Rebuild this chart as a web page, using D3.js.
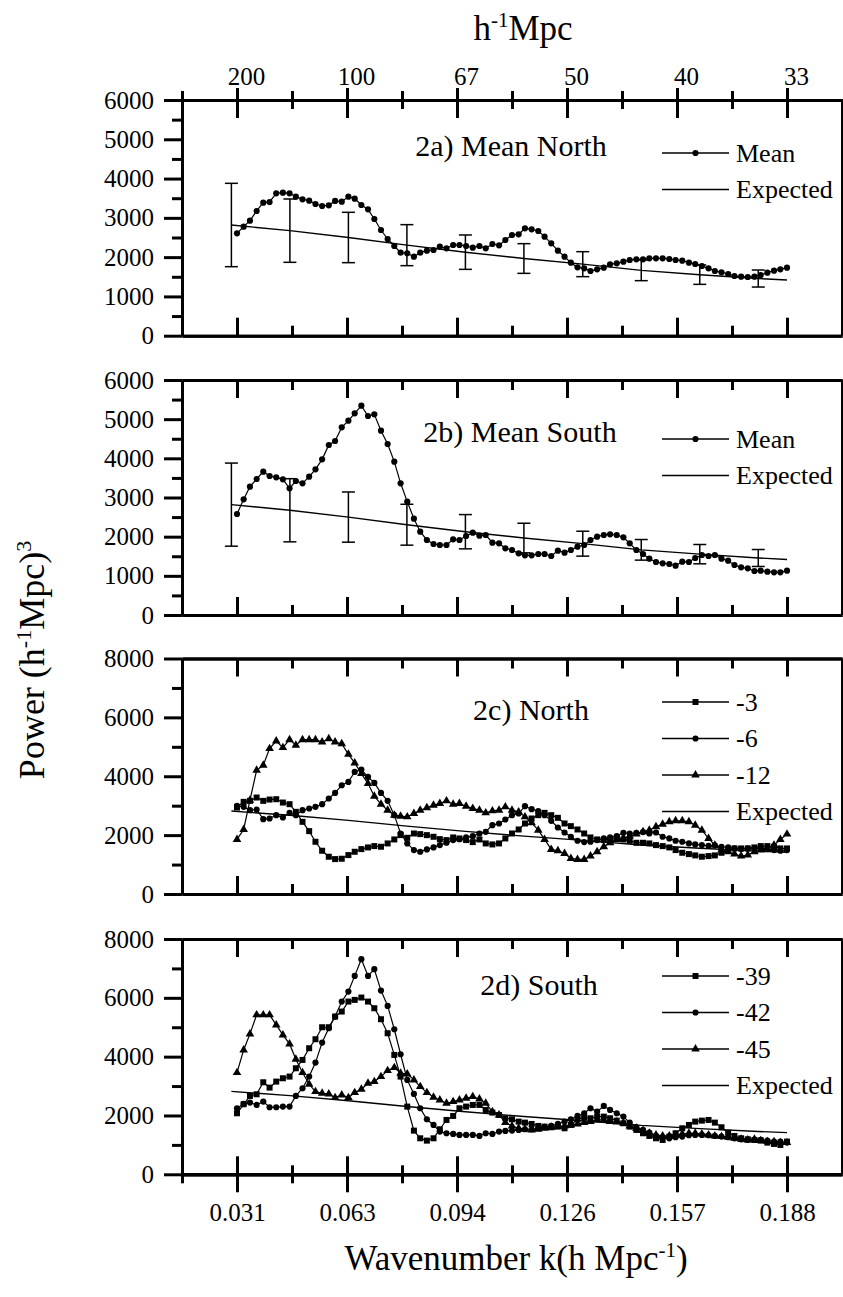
<!DOCTYPE html>
<html><head><meta charset="utf-8">
<script src="https://cdn.jsdelivr.net/npm/d3@7"></script>
<style>
body{margin:0;background:#fff;}
</style></head><body>
<svg id="chart" width="843" height="1297" style="font-family:'Liberation Serif',serif"></svg>
<script>
// ---------- DATA ----------
const kValues = [0.0314,0.0333,0.0351,0.0370,0.0389,0.0407,0.0426,0.0445,0.0464,0.0482,
0.0501,0.0520,0.0538,0.0557,0.0576,0.0594,0.0613,0.0632,0.0650,0.0669,
0.0688,0.0706,0.0725,0.0744,0.0763,0.0781,0.0800,0.0819,0.0837,0.0856,
0.0875,0.0893,0.0912,0.0931,0.0949,0.0968,0.0987,0.1006,0.1024,0.1043,
0.1062,0.1080,0.1099,0.1118,0.1136,0.1155,0.1174,0.1192,0.1211,0.1230,
0.1249,0.1267,0.1286,0.1305,0.1323,0.1342,0.1361,0.1379,0.1398,0.1417,
0.1435,0.1454,0.1473,0.1491,0.1510,0.1529,0.1548,0.1566,0.1585,0.1604,
0.1622,0.1641,0.1660,0.1678,0.1697,0.1716,0.1734,0.1753,0.1772,0.1791,
0.1809,0.1828,0.1847,0.1865,0.1884];

const kMajorTicks = [0.0314,0.0628,0.0942,0.1256,0.1570,0.1884];
const kMinorTicks = [0.0157,0.0471,0.0785,0.1099,0.1413,0.1727];
const kTickLabels = ["0.031","0.063","0.094","0.126","0.157","0.188"];
const lengthTickLabels = ["200","100","67","50","40","33"];
const yMajor6000 = [0,1000,2000,3000,4000,5000,6000];
const yMinor6000 = [500,1500,2500,3500,4500,5500];
const yMajor8000 = [0,2000,4000,6000,8000];
const yMinor8000 = [1000,3000,5000,7000];

const meanNorth = [2606,2776,2929,3175,3387,3404,3625,3642,3625,3540,
3472,3438,3353,3302,3319,3430,3413,3540,3489,3328,
3217,2971,2691,2462,2284,2114,2097,2012,2114,2165,
2182,2267,2224,2309,2309,2284,2241,2284,2224,2334,
2300,2436,2564,2581,2733,2708,2666,2521,2351,2165,
2012,1859,1740,1715,1647,1689,1732,1817,1842,1885,
1927,1944,1944,1969,1969,1969,1952,1927,1910,1859,
1825,1774,1715,1647,1613,1570,1519,1502,1494,1502,
1545,1604,1655,1689,1732];

const meanSouth = [2579,2953,3277,3472,3660,3549,3515,3464,3234,3421,
3362,3532,3719,3974,4340,4443,4791,4962,5149,5345,
5081,5123,4706,4366,3915,3362,2894,2460,2128,1915,
1813,1787,1787,1932,1915,2017,2102,2026,2043,1847,
1830,1702,1660,1574,1523,1523,1557,1557,1506,1643,
1591,1660,1745,1787,1915,2000,2043,2060,2043,1983,
1830,1660,1557,1438,1353,1319,1302,1260,1362,1353,
1455,1532,1506,1532,1438,1387,1277,1217,1191,1123,
1132,1106,1089,1089,1132];

const north3 = [2938,3130,3164,3277,3164,3209,3220,3107,3051,2791,
2452,2136,1774,1469,1266,1186,1198,1322,1435,1525,
1582,1627,1605,1718,1853,2000,1910,2056,2034,2000,
1944,1864,1831,1921,1887,1831,1763,1853,1718,1684,
1718,1887,2056,2192,2395,2565,2678,2757,2678,2588,
2395,2305,2192,2056,1921,1853,1831,1853,1887,1853,
1808,1740,1740,1718,1661,1627,1582,1492,1401,1356,
1311,1266,1288,1311,1401,1492,1548,1548,1548,1582,
1627,1627,1605,1548,1548];

const north6 = [2994,2960,2847,2870,2542,2565,2678,2599,2757,2678,
2847,2904,2960,3051,3243,3435,3695,3808,4147,4226,
3977,3774,3435,3164,2678,2056,1718,1492,1435,1514,
1582,1661,1740,1831,1864,1921,1966,2056,2113,2339,
2395,2531,2678,2734,2983,2881,2813,2678,2486,2260,
2090,1944,1808,1763,1774,1831,1887,1921,1966,2079,
2056,2079,2102,2056,2090,1944,1887,1808,1774,1718,
1684,1661,1638,1650,1605,1582,1548,1525,1548,1548,
1548,1525,1492,1469,1492];

const north12 = [1853,2192,3186,4203,4373,4938,5198,4972,5243,5051,
5243,5243,5243,5164,5277,5164,5107,4746,4452,4090,
3751,3322,3051,2847,2678,2644,2621,2734,2847,2927,
3017,3073,3164,3051,3073,2983,2904,2847,2757,2825,
2847,2960,2847,2791,2621,2418,2169,1853,1514,1469,
1379,1209,1175,1175,1288,1435,1605,1740,1853,1887,
1966,2034,2113,2169,2282,2373,2452,2486,2486,2452,
2339,2169,1887,1661,1492,1435,1356,1288,1322,1435,
1492,1548,1661,1853,2034];

const south39 = [2075,2381,2664,2721,3129,2948,3152,3265,3322,3605,
3889,4286,4592,5000,5000,5363,5533,5873,5930,6009,
5873,5646,5272,4796,4059,3322,2302,1485,1224,1145,
1224,1531,1848,1984,2245,2302,2358,2358,2188,2098,
2018,1905,1871,1791,1757,1712,1644,1621,1599,1621,
1565,1678,1871,1939,1905,1961,1961,1905,1825,1735,
1621,1508,1395,1304,1224,1168,1281,1395,1565,1678,
1791,1825,1848,1757,1599,1417,1304,1224,1190,1168,
1145,1077,1032,998,1111];

const south42 = [2245,2392,2438,2358,2472,2279,2279,2302,2302,2664,
2925,3322,3798,4478,4966,5363,5873,6213,6746,7313,
6746,6973,6247,5726,4932,4082,3209,2732,2245,1871,
1678,1451,1395,1372,1338,1338,1338,1304,1395,1372,
1451,1474,1485,1508,1531,1531,1565,1599,1644,1712,
1791,1871,1984,2075,2245,2132,2324,2188,2075,1961,
1757,1599,1508,1417,1304,1259,1224,1259,1281,1327,
1338,1338,1327,1304,1281,1259,1224,1190,1168,1168,
1168,1145,1111,1111,1077];

const south45 = [3458,4229,4773,5420,5420,5420,5079,4739,4433,3912,
3458,3061,2812,2755,2732,2608,2698,2608,2778,2891,
3095,3152,3322,3526,3628,3435,3413,3209,2982,2778,
2619,2528,2415,2472,2528,2585,2642,2562,2415,2132,
2018,1757,1644,1565,1531,1508,1531,1565,1599,1621,
1644,1678,1712,1757,1791,1848,1848,1791,1780,1735,
1644,1565,1485,1395,1338,1304,1304,1338,1372,1395,
1395,1372,1338,1304,1281,1259,1224,1190,1168,1190,
1145,1111,1111,1077,1077];

const expectedK = [0.0298,0.0465,0.0632,0.0799,0.0966,0.1133,0.1301,0.1468,0.1635,0.1802,0.1884];
const expectedP = [2818,2674,2500,2305,2126,1965,1821,1664,1553,1456,1418];
const errorK    = [0.0298,0.0465,0.0632,0.0799,0.0966,0.1133,0.1301,0.1468,0.1635,0.1802];
const errorLow  = [1757,1868,1859,1783,1689,1587,1503,1401,1307,1239];
const errorHigh = [3879,3480,3141,2827,2564,2343,2139,1927,1800,1672];

// ---------- LAYOUT ----------
const FONT = "'Liberation Serif', serif";
const svg = d3.select("#chart");
svg.append("rect").attr("width",843).attr("height",1297).attr("fill","#fff");

const x = d3.scaleLinear().domain([0.0157, 0.2041]).range([182, 842]);

const panels = [
  {top:100, bottom:335.7, yMax:6000, major:yMajor6000, minor:yMinor6000,
   title:"2a) Mean North", tx:511, ty:156, legendY:153, errors:true, first:true,
   series:[{name:"Mean", values:meanNorth, sym:d3.symbolCircle, size:30}]},
  {top:380, bottom:615, yMax:6000, major:yMajor6000, minor:yMinor6000,
   title:"2b) Mean South", tx:520, ty:442, legendY:439, errors:true,
   series:[{name:"Mean", values:meanSouth, sym:d3.symbolCircle, size:30}]},
  {top:658.5, bottom:894, yMax:8000, major:yMajor8000, minor:yMinor8000,
   title:"2c) North", tx:531, ty:720, legendY:702,
   series:[{name:"-3", values:north3, sym:d3.symbolSquare, size:36},
           {name:"-6", values:north6, sym:d3.symbolCircle, size:30},
           {name:"-12", values:north12, sym:d3.symbolTriangle, size:32}]},
  {top:939, bottom:1174.3, yMax:8000, major:yMajor8000, minor:yMinor8000,
   title:"2d) South", tx:539, ty:995, legendY:976, last:true,
   series:[{name:"-39", values:south39, sym:d3.symbolSquare, size:36},
           {name:"-42", values:south42, sym:d3.symbolCircle, size:30},
           {name:"-45", values:south45, sym:d3.symbolTriangle, size:32}]}
];

function styleAxis(g, fs){
  g.attr("font-family", null);
  g.selectAll("path.domain").attr("stroke","#000").attr("stroke-width",3);
  g.selectAll(".tick line").attr("stroke","#000").attr("stroke-width",3);
  g.selectAll(".tick text").attr("font-size",fs).style("font-family",FONT).attr("fill","#000");
  return g;
}
const none = () => "";

panels.forEach(p => {
  const y = d3.scaleLinear().domain([0, p.yMax]).range([p.bottom, p.top]);
  const g = svg.append("g");

  // left axis
  styleAxis(g.append("g").attr("transform","translate(182,0)")
    .call(d3.axisLeft(y).tickValues(p.major).tickSize(18).tickSizeOuter(0).tickPadding(10).tickFormat(d3.format("d"))), 25);
  styleAxis(g.append("g").attr("transform","translate(182,0)")
    .call(d3.axisLeft(y).tickValues(p.minor).tickSize(10).tickSizeOuter(0).tickFormat(none)), 25);

  // right frame line
  g.append("line").attr("x1",842).attr("x2",842).attr("y1",p.top).attr("y2",p.bottom)
    .attr("stroke","#000").attr("stroke-width",2);

  // top line
  if (p.first) {
    styleAxis(g.append("g").attr("transform",`translate(0,${p.top})`)
      .call(d3.axisTop(x).tickValues(kMajorTicks).tickSize(12).tickSizeOuter(0).tickPadding(3)
        .tickFormat((d,i)=>lengthTickLabels[i])), 25).selectAll(".tick text").attr("dx",9);
    styleAxis(g.append("g").attr("transform",`translate(0,${p.top})`)
      .call(d3.axisBottom(x).tickValues(kMajorTicks).tickSize(18).tickSizeOuter(0).tickFormat(none)), 25);
    styleAxis(g.append("g").attr("transform",`translate(0,${p.top})`)
      .call(d3.axisTop(x).tickValues(kMinorTicks).tickSize(9).tickSizeOuter(0).tickFormat(none)), 25);
    styleAxis(g.append("g").attr("transform",`translate(0,${p.top})`)
      .call(d3.axisBottom(x).tickValues(kMinorTicks).tickSize(9).tickSizeOuter(0).tickFormat(none)), 25);
  } else {
    styleAxis(g.append("g").attr("transform",`translate(0,${p.top})`)
      .call(d3.axisBottom(x).tickValues(kMajorTicks).tickSize(18).tickSizeOuter(0).tickFormat(none)), 25);
    styleAxis(g.append("g").attr("transform",`translate(0,${p.top})`)
      .call(d3.axisBottom(x).tickValues(kMinorTicks).tickSize(10).tickSizeOuter(0).tickFormat(none)), 25);
  }

  // bottom line
  styleAxis(g.append("g").attr("transform",`translate(0,${p.bottom})`)
    .call(d3.axisTop(x).tickValues(kMajorTicks).tickSize(18).tickSizeOuter(0).tickFormat(none)), 25);
  styleAxis(g.append("g").attr("transform",`translate(0,${p.bottom})`)
    .call(d3.axisTop(x).tickValues(kMinorTicks).tickSize(p.last?9:10).tickSizeOuter(0).tickFormat(none)), 25);
  if (p.last) {
    styleAxis(g.append("g").attr("transform",`translate(0,${p.bottom})`)
      .call(d3.axisBottom(x).tickValues(kMajorTicks).tickSize(18).tickSizeOuter(0).tickPadding(11)
        .tickFormat((d,i)=>kTickLabels[i])), 25);
    styleAxis(g.append("g").attr("transform",`translate(0,${p.bottom})`)
      .call(d3.axisBottom(x).tickValues(kMinorTicks).tickSize(9).tickSizeOuter(0).tickFormat(none)), 25);
  }

  // expected line
  const expPts = expectedK.map((k,i)=>[k, expectedP[i]]);
  g.append("path").attr("d", d3.line().x(d=>x(d[0])).y(d=>y(d[1]))(expPts))
    .attr("fill","none").attr("stroke","#000").attr("stroke-width",1.4);

  // error bars
  if (p.errors) {
    errorK.forEach((k,i)=>{
      const cx = x(k);
      g.append("line").attr("x1",cx).attr("x2",cx).attr("y1",y(errorLow[i])).attr("y2",y(errorHigh[i]))
        .attr("stroke","#000").attr("stroke-width",1.5);
      [errorLow[i], errorHigh[i]].forEach(v=>{
        g.append("line").attr("x1",cx-6.5).attr("x2",cx+6.5).attr("y1",y(v)).attr("y2",y(v))
          .attr("stroke","#000").attr("stroke-width",1.5);
      });
    });
  }

  // data series
  p.series.forEach(s => {
    const pts = s.values.map((v,i)=>[kValues[i], v]);
    g.append("path").attr("d", d3.line().x(d=>x(d[0])).y(d=>y(d[1]))(pts))
      .attr("fill","none").attr("stroke","#000").attr("stroke-width",1.2);
    g.selectAll(null).data(pts).enter().append("path")
      .attr("transform", d=>`translate(${x(d[0])},${y(d[1])})`)
      .attr("d", d3.symbol().type(s.sym).size(s.size)())
      .attr("fill","#000");
  });

  // title
  g.append("text").attr("x",p.tx).attr("y",p.ty).attr("text-anchor","middle")
    .style("font-family",FONT).attr("font-size",30).text(p.title);

  // legend
  const rows = p.series.map(s=>({name:s.name, sym:s.sym, size:s.size}))
    .concat([{name:"Expected", sym:null}]);
  rows.forEach((r,i)=>{
    const ry = p.legendY + i*36.5;
    g.append("line").attr("x1",662).attr("x2",729).attr("y1",ry).attr("y2",ry)
      .attr("stroke","#000").attr("stroke-width",1.3);
    if (r.sym) g.append("path").attr("transform",`translate(695.5,${ry})`)
      .attr("d", d3.symbol().type(r.sym).size(r.size)()).attr("fill","#000");
    g.append("text").attr("x",736).attr("y",ry+8.5).style("font-family",FONT).attr("font-size",26).text(r.name);
  });
});

// axis titles
const t1 = svg.append("text").attr("x",523).attr("y",40).attr("text-anchor","middle").style("font-family",FONT).attr("font-size",35);
t1.append("tspan").text("h");
t1.append("tspan").attr("dy",-13).attr("font-size",21).text("-1");
t1.append("tspan").attr("dy",13).text("Mpc");

const t2 = svg.append("text").attr("x",516).attr("y",1270).attr("text-anchor","middle").style("font-family",FONT).attr("font-size",35);
t2.append("tspan").text("Wavenumber k(h Mpc");
t2.append("tspan").attr("dy",-13).attr("font-size",21).text("-1");
t2.append("tspan").attr("dy",13).text(")");

const t3 = svg.append("text").attr("transform","translate(44,660) rotate(-90)").attr("text-anchor","middle").style("font-family",FONT).attr("font-size",36);
t3.append("tspan").text("Power (h");
t3.append("tspan").attr("dy",-13).attr("font-size",22).text("-1");
t3.append("tspan").attr("dy",13).text("Mpc)");
t3.append("tspan").attr("dy",-13).attr("font-size",22).text("3");
</script>
</body></html>
